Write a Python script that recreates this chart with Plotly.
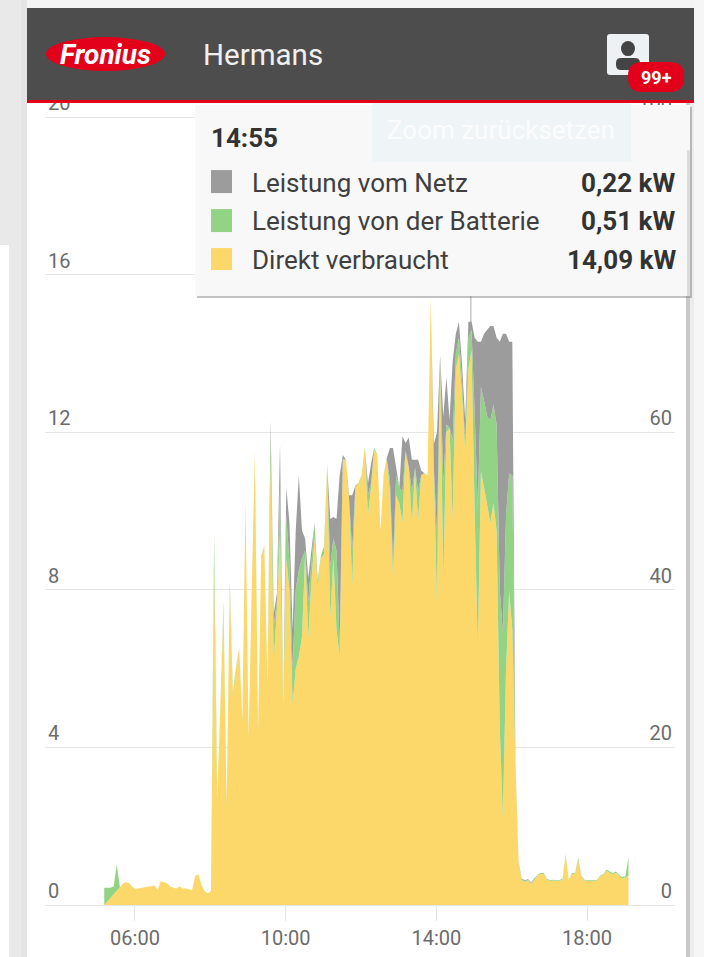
import pandas as pd
import plotly.graph_objects as go

W, H = 704, 957
L, R, T, B = 45, 675, 57.9, 905

FONT = "Roboto"
START = "2024-06-01 05:11"
X_RANGE = ["2024-06-01 03:36:40", "2024-06-01 20:20:07"]
Y_RANGE = [0, 21.5]
Y2_RANGE = [0, 107.5]
CROSSHAIR = "2024-06-01 14:55"

direct = [
    0, .09, .18, .27, .36, .45, .55, .58, .55, .45,
    .41, .42, .44, .45, .47, .47, .5, .38, .6, .58,
    .55, .47, .44, .42, .47, .42, .42, .4, .38, .75,
    .78, .5, .35, .3, .35, 8.5, 2.7, 5.0, 7.5, 2.5,
    8.0, 5.3, 6.0, 6.55, 4.65, 10.2, 4.25, 8.0, 11.5, 4.4,
    8.8, 9.1, 5.6, 11.3, 6.2, 7.5, 9.4, 5.0, 8.8, 8.0,
    5.1, 6.0, 6.3, 6.8, 8.9, 6.8, 8.2, 9.3, 8.1, 8.8,
    8.9, 11.1, 7.3, 8.8, 7.0, 6.3, 11.3, 11.3, 10.3, 8.1,
    10.6, 10.7, 10.9, 11.6, 9.9, 10.6, 11.55, 11.4, 9.5, 10.9,
    11.3, 10.5, 8.3, 10.4, 10.2, 9.7, 11.5, 11.1, 9.7, 11.0,
    9.8, 10.9, 10.95, 10.9, 15.4, 11.0, 7.7, 13.8, 8.2, 12.0,
    12.1, 9.8, 13.6, 14.0, 12.9, 11.5, 13.6, 14.09, 10.0, 6.5,
    11.0, 10.6, 10.15, 9.7, 10.2, 9.5, 4.5, 2.2, 6.0, 7.95,
    7.0, 3.5, 1.05, .63, .59, .62, .53, .63, .74, .79,
    .79, .65, .61, .62, .61, .61, .65, 1.27, .63, .79,
    .8, 1.14, .72, .62, .61, .61, .61, .62, .73, .76,
    .87, .82, .78, .82, .74, .68, .7, .75,
]
battery = [
    .44, .35, .26, .2, .67, 0, 0, 0, 0, 0,
    0, 0, 0, 0, 0, 0, 0, 0, 0, 0,
    0, 0, 0, 0, 0, 0, 0, 0, 0, 0,
    0, 0, 0, 0, 0, .9, 0, .1, .2, .05,
    .2, .1, .05, 0, .05, .05, .02, .05, .05, .02,
    .05, .02, .05, .7, .9, .2, 1.2, .1, 1.1, .7,
    .9, 2.0, 2.2, 2.0, .1, .9, .5, .35, .15, .05,
    .2, .05, 1.3, .5, 2.0, .3, .02, 0, 0, .9,
    .02, .02, .02, .03, .5, .1, .05, .02, .02, .02,
    .02, .3, .4, .5, .4, .8, .03, .02, .8, .1,
    .7, .02, .01, .01, .01, .1, 1.7, .05, 2.5, .2,
    .02, 2.0, .4, .4, .4, .2, .8, .51, 2.5, 3.6,
    2.15, 2.2, 2.25, 2.6, 2.5, 2.7, 3.5, 4.7, 3.9, 3.0,
    3.9, .05, .02, .02, .02, .02, .02, .02, .02, .02,
    .02, .02, .02, .02, .02, .02, .02, .02, .02, .02,
    .02, .05, .02, .02, .02, .02, .02, .02, .02, .02,
    .03, .03, .03, .03, .03, .03, .03, .44,
]
grid = [
    0, 0, 0, 0, 0, 0, 0, 0, 0, 0,
    0, 0, 0, 0, 0, 0, 0, 0, 0, 0,
    0, 0, 0, 0, 0, 0, 0, 0, 0, 0,
    0, 0, 0, 0, 0, 0, 0, 0, 0, 0,
    0, 0, 0, 0, 0, 0, 0, 0, 0, 0,
    0, 0, 0, .3, .3, .2, 1.1, 0, .7, 1.0,
    1.0, 1.5, 2.4, .7, .3, .6, .3, .05, 0, 0,
    0, .02, 1.2, .55, .8, 4.3, .1, 0, .1, 1.4,
    .02, 0, 0, 0, .3, .5, 0, 0, 0, 0,
    .02, .8, 2.9, .2, 0, 1.4, .2, .75, .8, .2,
    .8, .1, 0, 0, 0, .6, 2.6, .1, 1.7, 1.2,
    .2, 2.0, .5, .4, .4, .6, .4, .22, 1.9, 4.2,
    1.15, 1.7, 2.2, 2.4, 2.0, 2.2, 6.3, 7.6, 4.6, 3.35,
    3.4, .05, .02, .02, .02, .02, .02, .02, 0, 0,
    0, 0, 0, 0, 0, 0, 0, 0, 0, 0,
    0, 0, 0, 0, 0, 0, 0, 0, 0, 0,
    0, 0, 0, 0, 0, 0, 0, 0,
]
assert len(direct) == len(battery) == len(grid) == 168

left_ticks = [0, 4, 8, 12, 16, 20]
right_ticks = [0, 20, 40, 60, 100]
time_ticks = ["2024-06-01 06:00", "2024-06-01 10:00", "2024-06-01 14:00", "2024-06-01 18:00"]
time_labels = ["06:00", "10:00", "14:00", "18:00"]

series_names = ["Leistung vom Netz", "Leistung von der Batterie", "Direkt verbraucht"]
tooltip_values = ["0,22 kW", "0,51 kW", "14,09 kW"]
tooltip_time = "14:55"
series_colors = ["#9c9c9c", "#93d385", "#fbd869"]

times = pd.date_range(START, periods=len(direct), freq="5min")


def px(x):
    return (x - L) / (R - L)


def py(y):
    return (B - y) / (B - T)


def box(x0, y0, x1, y1, fill, layer="above"):
    return dict(type="rect", xref="paper", yref="paper", x0=px(x0), x1=px(x1), y0=py(y0), y1=py(y1),
                fillcolor=fill, line_width=0, layer=layer)


def rounded(x0, y0, x1, y1, r, fill):
    a, b, c, d = px(x0), px(x1), py(y0), py(y1)
    rx, ry = r / (R - L), r / (B - T)
    path = (f"M {a+rx} {c} L {b-rx} {c} Q {b} {c} {b} {c-ry} L {b} {d+ry} Q {b} {d} {b-rx} {d} "
            f"L {a+rx} {d} Q {a} {d} {a} {d+ry} L {a} {c-ry} Q {a} {c} {a+rx} {c} Z")
    return dict(type="path", xref="paper", yref="paper", path=path, fillcolor=fill, line_width=0, layer="above")


def oval(x0, y0, x1, y1, fill):
    return dict(type="circle", xref="paper", yref="paper", x0=px(x0), x1=px(x1), y0=py(y0), y1=py(y1),
                fillcolor=fill, line_width=0, layer="above")


def label(x, y, text, size, color, anchor="left", bold=False, italic=False):
    t = f"<b>{text}</b>" if bold else text
    t = f"<i>{t}</i>" if italic else t
    return dict(xref="paper", yref="paper", x=px(x), y=py(y), text=t, showarrow=False, xanchor=anchor,
                yanchor="middle", font=dict(family=FONT, size=size, color=color), borderpad=0, borderwidth=0)


fig = go.Figure()
for values, name, color in [(direct, series_names[2], series_colors[2]),
                            (battery, series_names[1], series_colors[1]),
                            (grid, series_names[0], series_colors[0])]:
    fig.add_trace(go.Scatter(x=times, y=values, name=name, mode="none", stackgroup="one",
                             fillcolor=color, hoverinfo="skip"))
fig.add_trace(go.Scatter(x=[times[0]], y=[None], yaxis="y2", mode="lines", showlegend=False, hoverinfo="skip"))

tick_font = dict(family=FONT, size=20, color="#6b6b6b")
shapes = [
    # crosshair
    dict(type="line", xref="x", yref="paper", x0=CROSSHAIR, x1=CROSSHAIR, y0=py(323), y1=py(296),
         line=dict(color="#a8a8a8", width=1), layer="above"),
    # surrounding page
    box(0, 0, 704, 8, "#f4f4f4"),
    box(0, 0, 21, 245, "#e9e9e9"),
    box(21, 0, 27, 957, "#e4e4e4"),
    box(0, 245, 9, 957, "#ffffff"),
    box(9, 245, 21, 957, "#e9e9e9"),
    box(686, 103, 690, 957, "#c9c9c9"),
    box(690, 103, 695, 957, "#ececec"),
    box(694, 0, 704, 957, "#f6f6f6"),
    # tooltip
    box(197, 107, 692, 298, "rgba(120,120,120,0.45)"),
    box(195, 105, 690, 296, "#f8f8f8"),
    # reset button seen through the tooltip
    box(372, 103, 631, 162, "#eff5f6"),
    box(687, 150, 690, 296, "#dcdcdc"),
    box(211, 170, 232, 193, series_colors[0]),
    box(211, 209, 232, 232, series_colors[1]),
    box(211, 248, 232, 270, series_colors[2]),
    # header
    box(27, 8, 694, 100, "#4d4d4d"),
    box(27, 100, 694, 103, "#e2001a"),
    oval(46, 37, 165, 71, "#e2001a"),
    rounded(607, 34, 649, 75, 3, "#eef1f3"),
    oval(621, 41, 635, 56, "#444444"),
    rounded(616, 58, 640, 70, 5, "#444444"),
    rounded(628, 62, 684, 92, 14, "#e2001a"),
]
texts = [
    label(105, 54, "Fronius", 28, "#ffffff", "center", bold=True, italic=True),
    label(203, 55, "Hermans", 29.5, "#f0f0f0"),
    label(656, 77, "99+", 18, "#ffffff", "center", bold=True),
    label(501, 130, "Zoom zurücksetzen", 26, "#fbfcfc", "center"),
    label(211, 138, tooltip_time, 26, "#333333", bold=True),
]
for row_y, name, val in zip([183, 221, 260], series_names, tooltip_values):
    texts.append(label(252, row_y, name, 26, "#3f3f3f"))
    texts.append(label(676, row_y, val, 26, "#333333", "right", bold=True))

fig.update_layout(
    width=W, height=H,
    margin=dict(l=L, r=W - R, t=T, b=H - B, pad=0, autoexpand=False),
    paper_bgcolor="#ffffff", plot_bgcolor="#ffffff",
    showlegend=False,
    xaxis=dict(type="date", range=X_RANGE, tickmode="array", tickvals=time_ticks, ticktext=time_labels,
               ticks="outside", ticklen=15, tickcolor="#e6e6e6", tickwidth=1, tickfont=tick_font,
               showgrid=False, showline=True, linecolor="#e6e6e6", linewidth=1, zeroline=False,
               automargin=False),
    yaxis=dict(range=Y_RANGE, tickmode="array", tickvals=left_ticks, tickfont=tick_font,
               gridcolor="#e6e6e6", gridwidth=1, zeroline=False, showline=False, automargin=False,
               ticklabelposition="inside top"),
    yaxis2=dict(range=Y2_RANGE, tickmode="array", tickvals=right_ticks, tickfont=tick_font,
                overlaying="y", side="right", showgrid=False, zeroline=False, showline=False,
                automargin=False, ticklabelposition="inside top"),
    shapes=shapes, annotations=texts,
)

fig.write_html("out.html", config=dict(displayModeBar=False),
               post_script="document.body.style.margin='0';document.documentElement.style.overflow='hidden';")
